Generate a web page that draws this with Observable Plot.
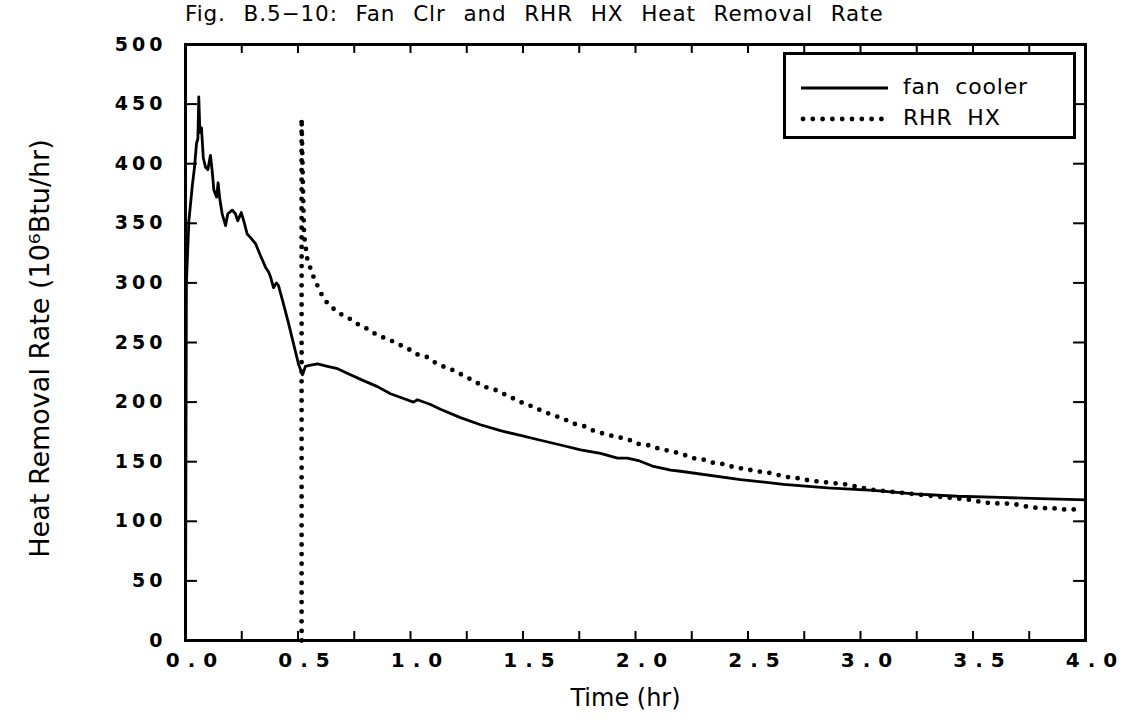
<!DOCTYPE html>
<html><head><meta charset="utf-8">
<script src="https://cdn.jsdelivr.net/npm/d3@7"></script>
<script src="https://cdn.jsdelivr.net/npm/@observablehq/plot@0.6"></script>
<style>
body{margin:0;background:#fff;}
#wrap{position:relative;width:1127px;height:724px;overflow:hidden;background:#fff;}
#title{position:absolute;left:185px;top:0px;height:28px;line-height:28px;font-family:"DejaVu Sans",sans-serif;font-size:21.5px;word-spacing:10px;letter-spacing:0.9px;white-space:nowrap;color:#000;}
#chart{position:absolute;left:0;top:28px;}
#legend{position:absolute;left:783px;top:52px;width:287px;height:81px;border:3px solid #000;background:#fff;}
#legend svg{position:absolute;left:0;top:0;}
#legend .lab{position:absolute;left:117px;font-family:"DejaVu Sans",sans-serif;font-size:22px;word-spacing:7px;letter-spacing:0.8px;white-space:nowrap;line-height:24px;}
g[aria-label="y-axis tick label"] text{letter-spacing:4px;font-weight:bold;}
g[aria-label="x-axis tick label"] text{letter-spacing:8px;font-weight:bold;}
</style>
</head><body>
<div id="wrap">
  <div id="title">Fig. B.5−10: Fan Clr and RHR HX Heat Removal Rate</div>
  <div id="chart"></div>
  <div id="legend">
    <svg width="287" height="81">
      <line x1="15" x2="102" y1="33" y2="33" stroke="#000" stroke-width="2.8"></line>
      <line x1="17" x2="102" y1="64" y2="64" stroke="#000" stroke-width="4.8" stroke-linecap="round" stroke-dasharray="0 9.8"></line>
    </svg>
    <div class="lab" style="top:20px">fan cooler</div>
    <div class="lab" style="top:51px">RHR HX</div>
  </div>
</div>
<script>
// Fan cooler heat removal rate (10^6 Btu/hr) vs time (hr)
const fanTime = [0.000,0.004,0.015,0.030,0.040,0.049,0.055,0.059,0.064,0.071,0.079,0.089,0.099,0.111,0.119,0.126,0.138,0.145,0.152,0.163,0.178,0.188,0.208,0.222,0.232,0.248,0.262,0.274,0.289,0.311,0.333,0.356,0.370,0.378,0.391,0.404,0.413,0.436,0.458,0.480,0.502,0.520,0.533,0.556,0.587,0.631,0.676,0.733,0.791,0.853,0.911,0.969,1.013,1.031,1.089,1.133,1.222,1.311,1.400,1.489,1.578,1.667,1.756,1.844,1.920,1.964,2.013,2.080,2.156,2.200,2.467,2.658,2.853,3.058,3.236,3.431,3.622,3.800,4.000];
const fanRate = [0,300,352,381,397,417,421,456,426,430,405,397,395,407,393,378,372,384,371,358,348,358,361,358,352,359,350,341,338,333,323,313,309,305,296,300,298,282,266,249,232,223,230,231,232,230,228,223,218,213,207,203,200,202,198,194,187,181,176,172,168,164,160,157,153,153,151,146,143,142,135,131,128,126,123,121,120,119,118];
// RHR HX heat removal rate
const rhrTime = [0.516,0.516,0.522,0.527,0.542,0.556,0.569,0.600,0.622,0.653,0.689,0.729,0.769,0.813,0.853,0.898,0.942,0.987,1.031,1.071,1.111,1.156,1.200,1.236,1.280,1.324,1.369,1.413,1.458,1.502,1.547,1.591,1.636,1.680,1.724,1.769,1.813,1.867,1.911,1.964,2.009,2.053,2.102,2.151,2.200,2.253,2.298,2.347,2.391,2.444,2.489,2.533,2.587,2.631,2.680,2.729,2.778,2.831,2.880,2.933,2.987,3.031,3.076,3.280,3.333,3.387,3.436,3.489,3.542,3.591,3.644,3.698,3.747,3.800,3.853,3.902,3.956,3.987];
const rhrRate = [0,438,380,340,319,312,305,292,285,279,274,270,265,261,256,253,249,245,240,238,233,229,226,222,218,213,211,207,203,199,196,192,189,186,182,180,176,173,171,169,165,164,161,159,157,153,152,149,148,145,144,142,141,139,137,136,134,133,132,131,129,127,126,122,121,120,119,118,116,115,115,114,112,111,111,110,110,108];
// axis ticks
const xLabelTicks = [0,0.5,1,1.5,2,2.5,3,3.5,4];
const xMinorTicks = [0.25,0.5,0.75,1,1.25,1.5,1.75,2,2.25,2.5,2.75,3,3.25,3.5,3.75];
const yTicks = [0,50,100,150,200,250,300,350,400,450,500];
const yLabel = "Heat Removal Rate (10\u2076Btu/hr)";
const xLabel = "Time (hr)";

const fan = fanTime.map((t,i)=>({t, v: fanRate[i]}));
const rhr = rhrTime.map((t,i)=>({t, v: rhrRate[i]}));
const yInnerTicks = yTicks.filter(d=>d>0 && d<500);

const chart = Plot.plot({
  width: 1127,
  height: 696,
  marginTop: 16,
  marginBottom: 84,
  marginLeft: 185,
  marginRight: 42,
  style: {fontFamily: "'DejaVu Sans', sans-serif", color: "#000", background: "transparent", overflow: "visible"},
  x: {domain: [0,4]},
  y: {domain: [0,500]},
  marks: [
    Plot.line(rhr, {x: "t", y: "v", stroke: "#000", strokeWidth: 4.8, strokeLinecap: "round", strokeDasharray: "0 9.6", curve: "linear"}),
    Plot.line(fan, {x: "t", y: "v", stroke: "#000", strokeWidth: 2.8, strokeLinejoin: "round", curve: "linear"}),
    // inward ticks
    Plot.ruleX(xMinorTicks, {x: d=>d, y1: 0, y2: 7.5, stroke: "#000", strokeWidth: 2}),
    Plot.ruleX(xMinorTicks, {x: d=>d, y1: 492.5, y2: 500, stroke: "#000", strokeWidth: 2}),
    Plot.ruleY(yInnerTicks, {y: d=>d, x1: 0, x2: 0.053, stroke: "#000", strokeWidth: 2}),
    Plot.ruleY(yInnerTicks, {y: d=>d, x1: 3.947, x2: 4, stroke: "#000", strokeWidth: 2}),
    Plot.frame({stroke: "#000", strokeWidth: 3}),
    Plot.axisX(xLabelTicks, {tickSize: 0, tickPadding: 12, dx: 10, fontSize: 20, tickFormat: d3.format(".1f"), label: null}),
    Plot.axisY(yTicks, {tickSize: 0, tickPadding: 19, fontSize: 19, tickFormat: d=>String(d), label: null}),
    Plot.text([yLabel], {frameAnchor: "left", textAnchor: "middle", dx: -145, dy: 6, rotate: -90, fontSize: 27, text: d=>d}),
    Plot.text([xLabel], {frameAnchor: "bottom", dx: -10, dy: 65, fontSize: 24, text: d=>d})
  ]
});
document.getElementById("chart").appendChild(chart);
</script>
</body></html>
